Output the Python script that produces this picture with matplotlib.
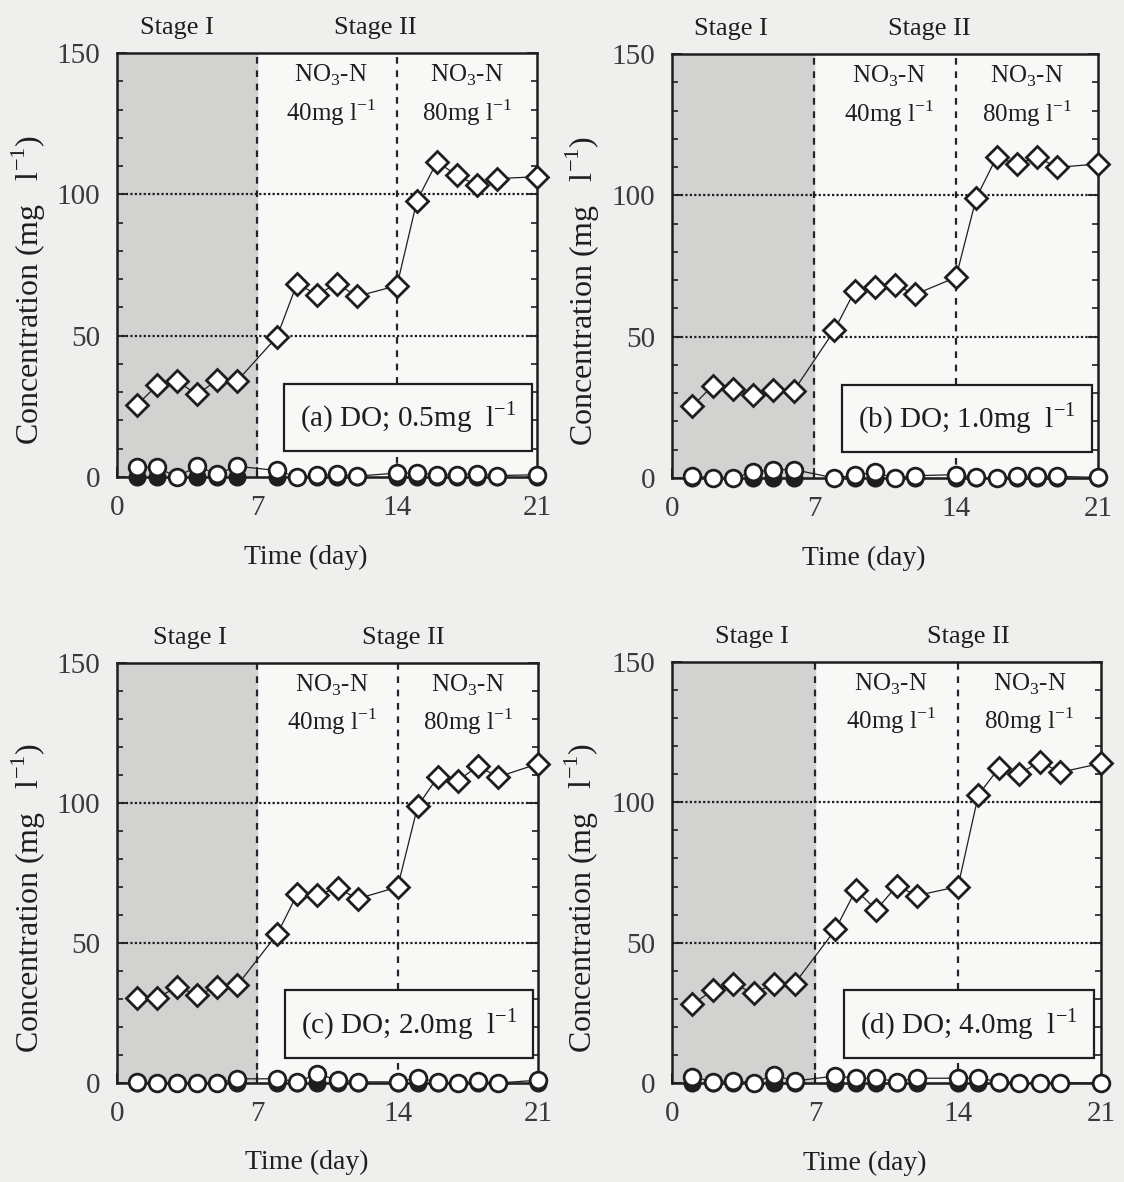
import numpy as np
import matplotlib.pyplot as plt

plt.rcParams['font.family'] = ['Liberation Serif', 'DejaVu Serif']
plt.rcParams['mathtext.fontset'] = 'custom'
plt.rcParams['mathtext.rm'] = 'Liberation Serif'

# sampling days (same for all four runs)
days = [1, 2, 3, 4, 5, 6, 8, 9, 10, 11, 12, 14, 15, 16, 17, 18, 19, 21]

# diamonds, open circles, filled circles
diam_a = [25.5, 32.4, 33.9, 29.2, 34.2, 33.9, 49.6, 68.4, 64.5, 68.4, 63.9, 67.7,
          97.8, 111.5, 106.7, 103.2, 105.6, 106.2]
open_a = [3.4, 3.4, 0.0, 3.8, 1.1, 3.8, 2.3, 0.0, 0.6, 0.9, 0.3, 1.4, 1.4, 0.8,
          0.8, 1.1, 0.5, 0.8]

diam_b = [25.4, 32.6, 31.6, 29.4, 31.0, 30.8, 52.2, 66.1, 67.6, 68.2, 65.0, 71.0,
          99.1, 113.5, 111.1, 113.5, 109.9, 111.1]
open_b = [0.8, 0.0, 0.0, 2.0, 3.0, 3.0, 0.0, 1.0, 2.0, 0.0, 0.8, 1.2, 0.2, 0.0,
          0.6, 0.6, 0.6, 0.2]

diam_c = [30.4, 30.4, 34.3, 31.5, 34.3, 34.9, 53.3, 67.6, 67.3, 69.6, 65.8, 70.0,
          98.9, 109.3, 107.9, 113.2, 109.3, 114.0]
open_c = [0.4, 0.0, 0.0, 0.0, 0.0, 1.5, 1.5, 0.4, 3.3, 1.0, 0.4, 0.4, 1.8, 0.4,
          0.0, 0.6, 0.0, 1.0]

diam_d = [28.0, 33.1, 35.4, 31.9, 35.4, 35.4, 54.7, 68.8, 61.7, 70.2, 66.8, 70.0,
          102.7, 112.2, 110.1, 114.5, 110.7, 113.9]
open_d = [2.2, 0.5, 0.7, 0.1, 2.8, 0.7, 2.5, 1.7, 1.7, 0.5, 1.7, 1.7, 1.7, 0.5,
          0.1, 0.1, 0.1, 0.0]

filled = [0.0] * len(days)

labels = ['(a) DO; 0.5mg  l$^{-1}$', '(b) DO; 1.0mg  l$^{-1}$',
          '(c) DO; 2.0mg  l$^{-1}$', '(d) DO; 4.0mg  l$^{-1}$']
diams = [diam_a, diam_b, diam_c, diam_d]
opens = [open_a, open_b, open_c, open_d]
stage1_x = [3.0, 2.9, 3.65, 3.9]
stage2_x = [12.9, 12.7, 14.3, 14.5]

W, H = 1124, 1182
boxes = [(117, 477, 420, 424), (672, 478, 426, 424),
         (117, 1083, 421, 420), (672, 1083, 429, 421)]

fig = plt.figure(figsize=(W / 100, H / 100), dpi=100, facecolor='#efefed')
ink = '#1e1e1e'

for k in range(4):
    l, b, w, h = boxes[k]
    ax = fig.add_axes([l / W, 1 - b / H, w / W, h / H])
    ax.set_facecolor('#f8f8f6')
    ax.set_xlim(0, 21)
    ax.set_ylim(0, 150)

    # stage I shading and stage dividers
    ax.axvspan(0, 7, color='#d2d2d0', zorder=0)
    for xv in [7, 14]:
        ax.axvline(xv, color='#2a2030', lw=1.6, ls=(0, (3, 3)), zorder=1)
    for yv in [50, 100]:
        ax.axhline(yv, color=ink, lw=1.6, ls=(0, (1, 1)), zorder=1)

    ax.plot(days, filled, '-o', color=ink, mfc=ink, mec=ink, ms=12, lw=0.9,
            clip_on=False, zorder=3)
    ax.plot(days, opens[k], '-o', color=ink, mfc='white', mec=ink, ms=12,
            mew=2.0, lw=0.9, clip_on=False, zorder=4)
    ax.plot(days, diams[k], '-D', color=ink, mfc='white', mec=ink, ms=11.5,
            mew=2.0, lw=0.9, clip_on=False, zorder=5)

    ax.text(10.7, 142, 'NO$_3$-N', ha='center', va='center', fontsize=18, color=ink)
    ax.text(10.7, 129, '40mg l$^{-1}$', ha='center', va='center', fontsize=18, color=ink)
    ax.text(17.5, 142, 'NO$_3$-N', ha='center', va='center', fontsize=18, color=ink)
    ax.text(17.5, 129, '80mg l$^{-1}$', ha='center', va='center', fontsize=18, color=ink)

    ax.text(stage1_x[k], 159, 'Stage I', ha='center', va='center', fontsize=19,
            color=ink, clip_on=False)
    ax.text(stage2_x[k], 159, 'Stage II', ha='center', va='center', fontsize=19,
            color=ink, clip_on=False)

    ax.text(14.55, 21, labels[k], ha='center', va='center', fontsize=21, color=ink,
            zorder=6, bbox=dict(boxstyle='square,pad=0.55', fc='#f8f8f6',
                                ec=ink, lw=1.6))

    ax.set_xticks([0, 7, 14, 21])
    ax.set_yticks([0, 50, 100, 150])
    ax.set_yticks(np.arange(0, 151, 10), minor=True)
    ax.tick_params(axis='both', which='major', direction='in', length=7,
                   width=1.3, labelsize=21, labelcolor='#3a3a3a', color=ink)
    ax.tick_params(axis='x', pad=13)
    ax.tick_params(axis='y', pad=12, right=True)
    ax.tick_params(axis='y', which='minor', direction='in', length=4, width=1.2,
                   right=True, color=ink)
    for s in ax.spines.values():
        s.set_linewidth(1.8)
        s.set_color(ink)

    ax.text(0.45, -0.19, 'Time (day)', transform=ax.transAxes, ha='center',
            va='center', fontsize=20, color=ink)
    ax.text(-0.21, 0.44, 'Concentration (mg   l$^{-1}$)', transform=ax.transAxes,
            ha='center', va='center', rotation=90, fontsize=23, color=ink)

fig.savefig('out.png', dpi=100, facecolor=fig.get_facecolor())
